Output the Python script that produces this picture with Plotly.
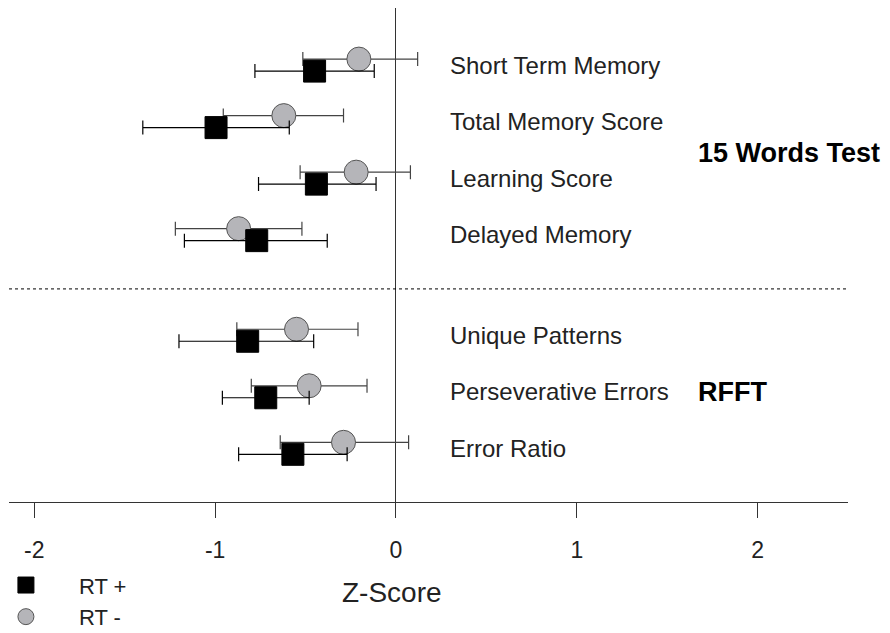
import plotly.graph_objects as go

# Data
tests = ["Short Term Memory", "Total Memory Score", "Learning Score", "Delayed Memory",
         "Unique Patterns", "Perseverative Errors", "Error Ratio"]
row_pos = [0, 1, 2, 3, 4.78, 5.78, 6.78]

rt_pos_mean = [-0.45, -0.995, -0.44, -0.77, -0.82, -0.72, -0.57]
rt_pos_low = [-0.78, -1.40, -0.76, -1.17, -1.20, -0.96, -0.87]
rt_pos_high = [-0.12, -0.59, -0.11, -0.38, -0.455, -0.48, -0.27]

rt_neg_mean = [-0.205, -0.62, -0.22, -0.87, -0.55, -0.48, -0.29]
rt_neg_low = [-0.515, -0.955, -0.53, -1.22, -0.88, -0.80, -0.64]
rt_neg_high = [0.12, -0.29, 0.08, -0.52, -0.21, -0.16, 0.07]

xticks = [-2, -1, 0, 1, 2]
offset = 0.106
divider = 3.96

FONT = "Arial, Liberation Sans, sans-serif"

fig = go.Figure()

fig.add_trace(go.Scatter(
    x=rt_neg_mean, y=[r - offset for r in row_pos], mode="markers", name="RT -",
    legendrank=2,
    marker=dict(symbol="circle", size=24, color="#b5b5b9", line=dict(color="#555555", width=1)),
    error_x=dict(type="data", symmetric=False,
                 array=[h - m for h, m in zip(rt_neg_high, rt_neg_mean)],
                 arrayminus=[m - l for m, l in zip(rt_neg_mean, rt_neg_low)],
                 color="#444444", thickness=1.2, width=7),
))
fig.add_trace(go.Scatter(
    x=rt_pos_mean, y=[r + offset for r in row_pos], mode="markers", name="RT +",
    legendrank=1,
    marker=dict(symbol="square", size=22, color="black", line=dict(color="black", width=1)),
    error_x=dict(type="data", symmetric=False,
                 array=[h - m for h, m in zip(rt_pos_high, rt_pos_mean)],
                 arrayminus=[m - l for m, l in zip(rt_pos_mean, rt_pos_low)],
                 color="black", thickness=1.2, width=7),
))

for t, r in zip(tests, row_pos):
    fig.add_annotation(x=0.29, y=r, text=t, showarrow=False, xanchor="left", yanchor="middle",
                       font=dict(family=FONT, size=24, color="#222222"))

fig.add_annotation(x=1.66, y=1.55, text="<b>15 Words Test</b>", showarrow=False,
                   xanchor="left", yanchor="middle", font=dict(family=FONT, size=27, color="black"))
fig.add_annotation(x=1.66, y=5.78, text="<b>RFFT</b>", showarrow=False,
                   xanchor="left", yanchor="middle", font=dict(family=FONT, size=27, color="black"))

fig.add_annotation(x=-0.02, y=-0.184, xref="x", yref="paper", text="Z-Score", showarrow=False,
                   xanchor="center", yanchor="middle", font=dict(family=FONT, size=28, color="#222222"))

fig.add_shape(type="line", xref="paper", x0=0, x1=1, yref="y", y0=divider, y1=divider,
              line=dict(color="black", width=1, dash="dot"))

fig.update_layout(
    width=882, height=625,
    margin=dict(l=1, r=42, t=0, b=131, autoexpand=False),
    paper_bgcolor="white", plot_bgcolor="white",
    font=dict(family=FONT, color="#222222"),
    showlegend=True,
    legend=dict(x=-0.043, y=-0.126, xanchor="left", yanchor="top",
                font=dict(family=FONT, size=22, color="#222222"),
                bgcolor="rgba(0,0,0,0)", itemwidth=96, tracegroupgap=0),
    xaxis=dict(range=[-2.14, 2.50], tickvals=xticks, ticktext=[str(v) for v in xticks],
               showgrid=False, zeroline=True, zerolinecolor="#333333", zerolinewidth=1,
               showline=True, linecolor="#333333", linewidth=1,
               ticks="outside", ticklen=15, tickcolor="#333333", ticklabelstandoff=12,
               tickfont=dict(family=FONT, size=23, color="#222222")),
    yaxis=dict(range=[7.73, -1.01], visible=False, showgrid=False, zeroline=False),
)

fig.write_html("out.html")
